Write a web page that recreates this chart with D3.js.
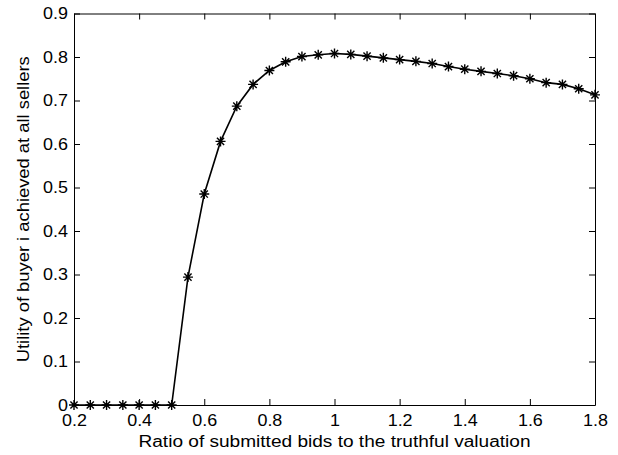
<!DOCTYPE html>
<html>
<head>
<meta charset="utf-8">
<script src="https://cdn.jsdelivr.net/npm/d3@7"></script>
<style>
  body { margin: 0; background: #fff; }
  svg text { font-family: "Liberation Sans", Arial, sans-serif; fill: #000; }
</style>
</head>
<body>
<div id="chart"></div>
<script>
// bid ratio (x) and buyer utility (y)
var ratios = [0.2, 0.25, 0.3, 0.35, 0.4, 0.45, 0.5, 0.55, 0.6, 0.65, 0.7, 0.75, 0.8, 0.85,
    0.9, 0.95, 1.0, 1.05, 1.1, 1.15, 1.2, 1.25, 1.3, 1.35, 1.4, 1.45, 1.5, 1.55, 1.6,
    1.65, 1.7, 1.75, 1.8];
var utility = [0, 0, 0, 0, 0, 0, 0, 0.294, 0.485, 0.606, 0.687, 0.737, 0.769, 0.789,
    0.801, 0.805, 0.808, 0.806, 0.802, 0.798, 0.794, 0.790, 0.785, 0.778, 0.772, 0.767,
    0.762, 0.757, 0.750, 0.741, 0.737, 0.727, 0.713];
var xTicks = [0.2, 0.4, 0.6, 0.8, 1.0, 1.2, 1.4, 1.6, 1.8];
var yTicks = [0, 0.1, 0.2, 0.3, 0.4, 0.5, 0.6, 0.7, 0.8, 0.9];

var data = ratios.map(function (r, i) { return { x: r, y: utility[i] }; });

var svgWidth = 618, svgHeight = 455;
var margin = { top: 13.5, right: 23, bottom: 50, left: 74 };
var width = svgWidth - margin.left - margin.right;
var height = svgHeight - margin.top - margin.bottom;

var svg = d3.select("#chart").append("svg")
    .attr("width", svgWidth)
    .attr("height", svgHeight);

var g = svg.append("g").attr("transform", "translate(" + margin.left + "," + margin.top + ")");

var x = d3.scaleLinear().domain([0.2, 1.8]).range([0, width]);
var y = d3.scaleLinear().domain([0, 0.9]).range([height, 0]);

function fmt(d) { return d3.format("~g")(d); }

// widen glyphs a bit, the reference font runs wider than Liberation Sans
function stretch(sel, k) {
    sel.each(function () {
        var w = this.getComputedTextLength();
        d3.select(this).attr("textLength", w * k).attr("lengthAdjust", "spacingAndGlyphs");
    });
}

// bottom + top axes (ticks inside)
g.append("g")
    .attr("transform", "translate(0," + height + ")")
    .call(d3.axisBottom(x).tickValues(xTicks).tickSizeInner(-6).tickSizeOuter(0).tickPadding(10).tickFormat(fmt))
    .call(function (a) { a.selectAll("text").attr("font-size", 16).call(stretch, 1.12); });
g.append("g")
    .call(d3.axisTop(x).tickValues(xTicks).tickSizeInner(-6).tickSizeOuter(0).tickFormat(""));

// left + right axes
g.append("g")
    .call(d3.axisLeft(y).tickValues(yTicks).tickSizeInner(-6).tickSizeOuter(0).tickPadding(6).tickFormat(fmt))
    .call(function (a) { a.selectAll("text").attr("font-size", 16).call(stretch, 1.12); });
g.append("g")
    .attr("transform", "translate(" + width + ",0)")
    .call(d3.axisRight(y).tickValues(yTicks).tickSizeInner(-6).tickSizeOuter(0).tickFormat(""));

g.selectAll(".domain").attr("stroke", "#000");
g.selectAll(".tick line").attr("stroke", "#000");

// the line
var line = d3.line()
    .x(function (d) { return x(d.x); })
    .y(function (d) { return y(d.y); });

g.append("path")
    .attr("fill", "none")
    .attr("stroke", "#000")
    .attr("stroke-width", 1.6)
    .attr("d", line(data));

// asterisk markers
var r = 5, rd = r * 0.72;
var star = "M" + (-r) + ",0L" + r + ",0M0," + (-r) + "L0," + r +
    "M" + (-rd) + "," + (-rd) + "L" + rd + "," + rd +
    "M" + (-rd) + "," + rd + "L" + rd + "," + (-rd);

g.selectAll(".marker")
    .data(data)
    .enter().append("path")
    .attr("class", "marker")
    .attr("transform", function (d) { return "translate(" + x(d.x) + "," + y(d.y) + ")"; })
    .attr("d", star)
    .attr("stroke", "#000")
    .attr("stroke-width", 1.4)
    .attr("fill", "none");

// axis labels
svg.append("text")
    .attr("x", margin.left + width / 2)
    .attr("y", 447)
    .attr("text-anchor", "middle")
    .attr("font-size", 16)
    .attr("textLength", 392)
    .attr("lengthAdjust", "spacingAndGlyphs")
    .text("Ratio of submitted bids to the truthful valuation");

svg.append("text")
    .attr("transform", "translate(29," + (margin.top + height / 2) + ") rotate(-90)")
    .attr("text-anchor", "middle")
    .attr("font-size", 16)
    .attr("textLength", 306)
    .attr("lengthAdjust", "spacingAndGlyphs")
    .text("Utility of buyer i achieved at all sellers");
</script>
</body>
</html>
